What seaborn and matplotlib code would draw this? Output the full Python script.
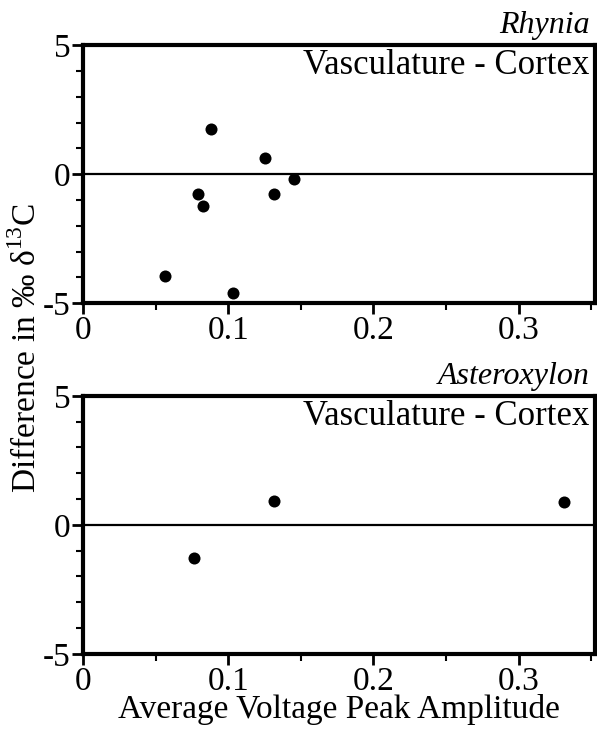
import matplotlib
matplotlib.use("Agg")
import matplotlib.pyplot as plt
import seaborn as sns
import pandas as pd
from matplotlib.ticker import MultipleLocator

sns.set_theme(style="white")
plt.rcParams['font.family'] = ['Liberation Serif', 'DejaVu Serif']
plt.rcParams['mathtext.fontset'] = 'custom'
plt.rcParams['mathtext.rm'] = 'Liberation Serif'

# Data
rhynia_x = [0.0565, 0.0792, 0.0826, 0.0882, 0.1033, 0.1253, 0.1315, 0.1453]
rhynia_y = [-3.95, -0.78, -1.24, 1.74, -4.61, 0.62, -0.78, -0.19]
aster_x = [0.0764, 0.1315, 0.331]
aster_y = [-1.28, 0.93, 0.87]
panel_titles = ["Rhynia", "Asteroxylon"]
inner_label = "Vasculature - Cortex"
xlabel = "Average Voltage Peak Amplitude"
ylabel = "Difference in ‰ δ$^{13}$C"

fig = plt.figure(figsize=(5.97, 7.29), dpi=100)
ax1 = fig.add_axes([0.139, 0.584, 0.8576, 0.354])
ax2 = fig.add_axes([0.139, 0.103, 0.8576, 0.354])

datasets = [(rhynia_x, rhynia_y), (aster_x, aster_y)]
for ax, (xs, ys), title in zip([ax1, ax2], datasets, panel_titles):
    df = pd.DataFrame({"x": xs, "y": ys})
    sns.scatterplot(data=df, x="x", y="y", ax=ax, color="black", s=75,
                    edgecolor="black", linewidth=0, zorder=3)
    ax.axhline(0, color="black", linewidth=1.6, zorder=2)
    ax.set_xlim(0, 0.3525)
    ax.set_ylim(-5, 5)
    ax.set_xticks([0, 0.1, 0.2, 0.3])
    ax.set_xticklabels(["0", "0.1", "0.2", "0.3"])
    ax.set_yticks([-5, 0, 5])
    ax.set_yticklabels(["-5", "0", "5"])
    ax.xaxis.set_minor_locator(MultipleLocator(0.05))
    ax.yaxis.set_minor_locator(MultipleLocator(1))
    ax.tick_params(axis="both", which="major", direction="out", length=8, width=2,
                   labelsize=24, pad=1, left=True, bottom=True, colors="black")
    ax.tick_params(axis="both", which="minor", direction="out", length=5, width=1.5,
                   left=True, bottom=True, colors="black")
    for sp in ax.spines.values():
        sp.set_linewidth(3)
        sp.set_color("black")
    ax.set_xlabel("")
    ax.set_ylabel("")
    ax.text(0.99, 1.047, title, transform=ax.transAxes, ha="right", va="baseline",
            fontsize=23, style="italic", color="black")
    ax.text(0.99, 0.985, inner_label, transform=ax.transAxes, ha="right", va="top",
            fontsize=25, color="black")

ax2.set_xlabel(xlabel, fontsize=24, labelpad=-2, color="black")
fig.text(0.045, 0.523, ylabel, rotation=90, ha="center", va="center", fontsize=24, color="black")

fig.savefig("out.png", dpi=100, facecolor="white")
